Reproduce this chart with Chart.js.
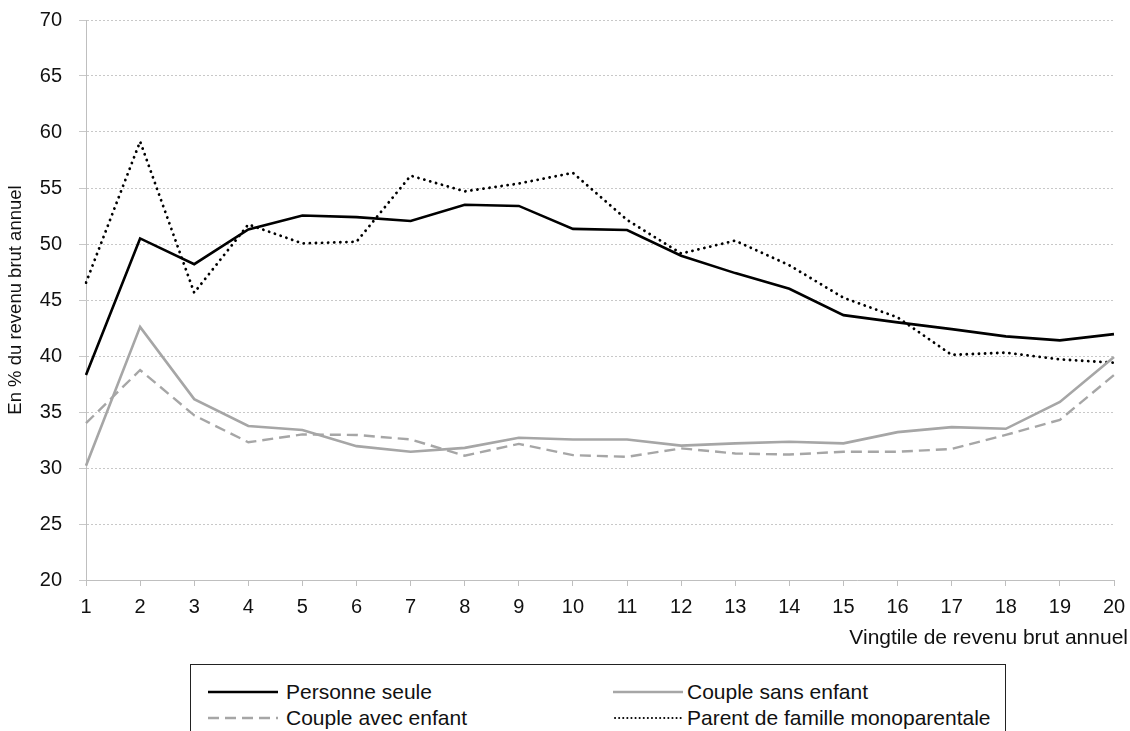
<!DOCTYPE html>
<html lang="fr">
<head>
    <meta charset="UTF-8">
    <title>Taux d'effort par vingtile</title>
    <script src="https://cdn.jsdelivr.net/npm/chart.js"></script>
    <style>
        html, body {
            margin: 0;
            padding: 0;
            background: #ffffff;
            overflow: hidden;
            font-family: "Liberation Sans", Arial, Helvetica, sans-serif;
        }
        #wrap {
            position: relative;
            width: 1130px;
            height: 731px;
        }
        #chart {
            position: absolute;
            left: 0;
            top: 0;
        }
        #legend {
            position: absolute;
            left: 190px;
            top: 664px;
            width: 814px;
            height: 90px;
            border: 1px solid #222;
            background: #fff;
        }
        .item {
            position: absolute;
            height: 24px;
            display: flex;
            align-items: center;
            font-size: 21px;
            color: #111;
            white-space: nowrap;
        }
    </style>
</head>
<body>
    <div id="wrap">
        <canvas id="chart" width="1130" height="731"></canvas>
        <div id="legend"></div>
    </div>

    <script>
        // vingtiles de revenu brut annuel
        const vingtiles = ['1', '2', '3', '4', '5', '6', '7', '8', '9', '10',
                           '11', '12', '13', '14', '15', '16', '17', '18', '19', '20'];

        // en % du revenu brut annuel
        const personneSeule = [38.3, 50.5, 48.2, 51.3, 52.55, 52.4, 52.05, 53.5, 53.4, 51.35,
                               51.25, 48.95, 47.4, 46.0, 43.65, 43.0, 42.4, 41.75, 41.4, 41.95];
        const coupleSansEnfant = [30.2, 42.6, 36.15, 33.75, 33.4, 31.95, 31.45, 31.8, 32.7, 32.55,
                                  32.55, 32.0, 32.2, 32.35, 32.2, 33.2, 33.65, 33.5, 35.9, 39.9];
        const coupleAvecEnfant = [34.0, 38.75, 34.7, 32.3, 33.0, 32.95, 32.55, 31.1, 32.15, 31.15,
                                  31.0, 31.75, 31.3, 31.2, 31.45, 31.45, 31.7, 32.95, 34.3, 38.3];
        const parentMono = [46.55, 59.15, 45.65, 51.75, 50.05, 50.2, 56.1, 54.7, 55.4, 56.35,
                            52.15, 49.15, 50.3, 48.1, 45.2, 43.45, 40.1, 40.3, 39.7, 39.4];

        const yTicks = [20, 25, 30, 35, 40, 45, 50, 55, 60, 65, 70];

        const FONT = '"Liberation Sans", Arial, Helvetica, sans-serif';
        const GREY = '#a6a6a6';

        const series = [
            { label: 'Personne seule', data: personneSeule, color: '#000000', width: 2.6, dash: [], cap: 'butt' },
            { label: 'Couple sans enfant', data: coupleSansEnfant, color: GREY, width: 2.6, dash: [], cap: 'butt' },
            { label: 'Couple avec enfant', data: coupleAvecEnfant, color: GREY, width: 2.4, dash: [11, 6], cap: 'butt' },
            { label: 'Parent de famille monoparentale', data: parentMono, color: '#000000', width: 2.8, dash: [0.1, 6], cap: 'round' }
        ];

        // axis title bottom right, outside the plot area
        const xTitlePlugin = {
            id: 'xTitle',
            afterDraw(chart) {
                const ctx = chart.ctx;
                ctx.save();
                ctx.font = '21px ' + FONT;
                ctx.fillStyle = '#111';
                ctx.textAlign = 'right';
                ctx.textBaseline = 'middle';
                ctx.fillText('Vingtile de revenu brut annuel', 1128, 638);
                ctx.restore();
            }
        };

        new Chart(document.getElementById('chart'), {
            type: 'line',
            data: {
                labels: vingtiles,
                datasets: series.map(s => ({
                    label: s.label,
                    data: s.data,
                    borderColor: s.color,
                    borderWidth: s.width,
                    borderDash: s.dash,
                    borderCapStyle: s.cap,
                    pointRadius: 0,
                    tension: 0,
                    fill: false
                }))
            },
            options: {
                responsive: false,
                animation: false,
                devicePixelRatio: 1,
                layout: { padding: { top: 20, right: 16, bottom: 111, left: 0 } },
                plugins: {
                    legend: { display: false },
                    tooltip: { enabled: false }
                },
                scales: {
                    x: {
                        type: 'category',
                        offset: false,
                        afterFit(scale) {
                            scale.height = 40;
                            scale.paddingLeft = 0;
                            scale.paddingRight = 0;
                        },
                        grid: {
                            drawOnChartArea: false,
                            drawTicks: true,
                            tickLength: 6,
                            tickColor: '#bfbfbf',
                            lineWidth: 1
                        },
                        border: { color: '#bfbfbf', width: 1 },
                        ticks: {
                            color: '#111',
                            padding: 9,
                            maxRotation: 0,
                            autoSkip: false,
                            font: { family: FONT, size: 20 }
                        }
                    },
                    y: {
                        min: 20,
                        max: 70,
                        afterFit(scale) {
                            scale.width = 86;
                            scale.paddingTop = 0;
                            scale.paddingBottom = 0;
                        },
                        afterBuildTicks(scale) { scale.ticks = yTicks.map(v => ({ value: v })); },
                        grid: {
                            color: '#c8c8c8',
                            lineWidth: 1,
                            tickLength: 7,
                            tickColor: '#c8c8c8'
                        },
                        border: { color: '#bfbfbf', width: 1, dash: [2, 2] },
                        ticks: {
                            color: '#111',
                            padding: 17,
                            font: { family: FONT, size: 20 }
                        },
                        title: {
                            display: true,
                            text: 'En % du revenu brut annuel',
                            color: '#111',
                            padding: { top: 5, bottom: 0 },
                            font: { family: FONT, size: 18.5 }
                        }
                    }
                }
            },
            plugins: [xTitlePlugin]
        });

        // legend in a framed box under the chart, two columns
        const legendPos = [
            { x: 17, y: 15, gap: 8 },
            { x: 422, y: 15, gap: 4 },
            { x: 17, y: 41, gap: 8 },
            { x: 422, y: 41, gap: 4 }
        ];
        const legendEl = document.getElementById('legend');
        series.forEach((s, i) => {
            const div = document.createElement('div');
            div.className = 'item';
            div.style.left = legendPos[i].x + 'px';
            div.style.top = legendPos[i].y + 'px';
            let dash = s.dash.length ? `stroke-dasharray="${s.dash.join(',')}"` : '';
            if (s.cap === 'round') dash = 'stroke-dasharray="0.1,4"';
            const w = s.cap === 'round' ? 2 : s.width;
            div.innerHTML = `<svg width="70" height="10" style="margin-right:${legendPos[i].gap}px"><line x1="${s.cap === 'round' ? 2 : 0}" y1="5" x2="70" y2="5" stroke="${s.color}" stroke-width="${w}" stroke-linecap="${s.cap}" ${dash}/></svg><span>${s.label}</span>`;
            legendEl.appendChild(div);
        });
    </script>
</body>
</html>
